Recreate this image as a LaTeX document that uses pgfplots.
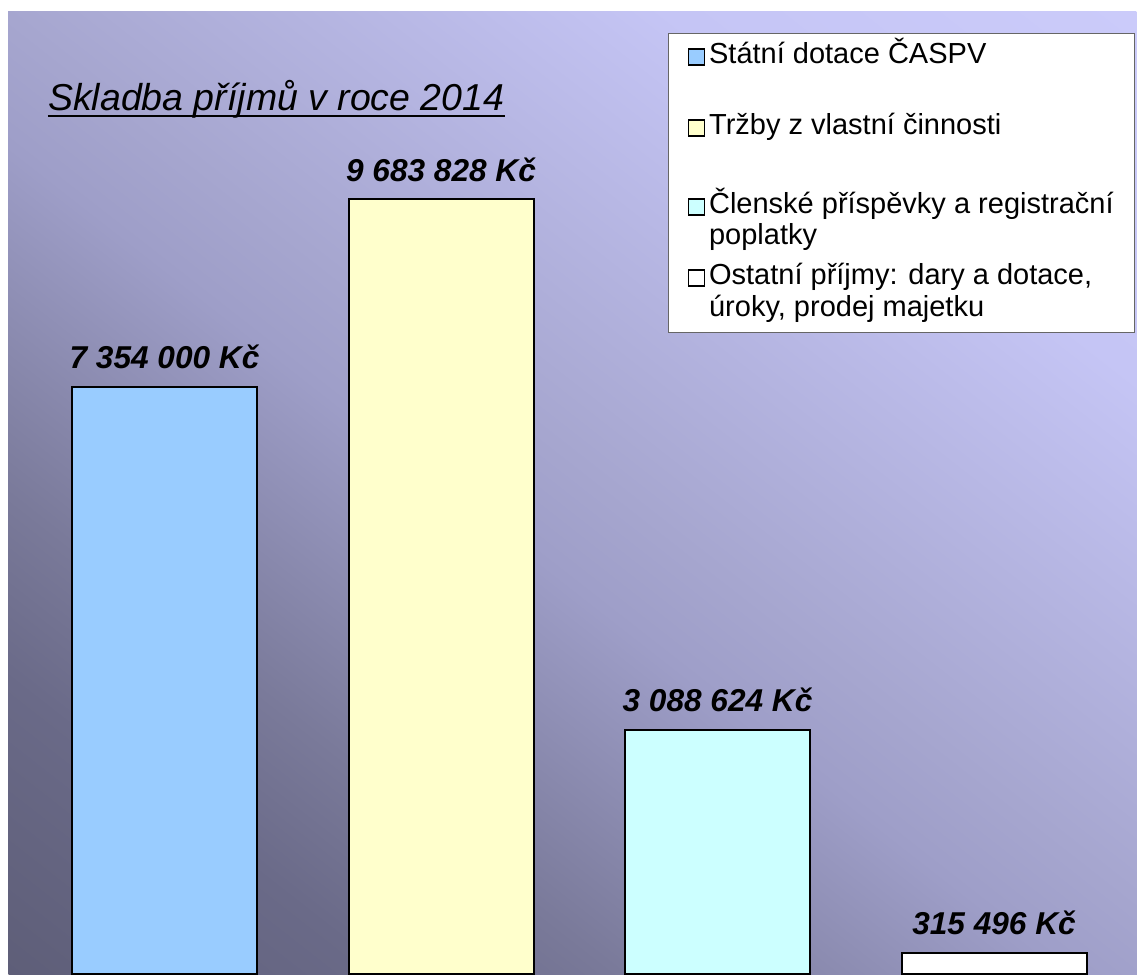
\documentclass[border=0pt]{standalone}
\usepackage{fontspec}
\setmainfont{Liberation Sans}
\usepackage{pgfplots}
\pgfplotsset{compat=1.18}
\newlength\px
\setlength\px{0.75pt}
\definecolor{cA}{HTML}{99CCFF}
\definecolor{cB}{HTML}{FFFFCC}
\definecolor{cC}{HTML}{CCFFFF}
\definecolor{g0}{HTML}{5E5E78}
\definecolor{g1}{HTML}{6A6A88}
\definecolor{g2}{HTML}{7A7A9A}
\definecolor{g3}{HTML}{9E9EC8}
\definecolor{g4}{HTML}{A6A6CF}
\definecolor{g5}{HTML}{C5C5F5}
\definecolor{g6}{HTML}{CBCBFA}
\pgfdeclareverticalshading{bgshade}{100bp}{color(0bp)=(g0); color(25bp)=(g0); color(33bp)=(g1); color(38bp)=(g2); color(47.5bp)=(g3); color(51bp)=(g4); color(65bp)=(g5); color(75bp)=(g6); color(100bp)=(g6)}
\newcommand\valfont{\fontsize{23.7}{28}\selectfont\bfseries\itshape}
\newcommand\legfont{\fontsize{21.75}{21.4}\selectfont}
\begin{document}
\begin{tikzpicture}
\useasboundingbox (0,0) rectangle (1137\px,974\px);
\begin{scope}
\clip (8\px,0) rectangle (1137\px,962\px);
\shade[shading=bgshade, transform canvas={rotate around={-38:(572.5\px,481\px)}}] (-327.5\px,-245.6\px) rectangle (1472.5\px,1207.6\px);
\end{scope}
\begin{axis}[
  at={(8\px,0)}, anchor=south west,
  scale only axis, width=1129\px, height=962\px,
  xmin=-0.566, xmax=3.517,
  ymin=50000, ymax=12013000,
  xtick=\empty, ytick=\empty,
  axis line style={draw=none},
  clip=true,
  legend style={at={(rel axis cs:0.5846,0.9782)}, anchor=north west, draw=black!60, line width=1\px, fill=white,
     inner xsep=19\px, inner ysep=5\px, cells={anchor=base west}, nodes={inner sep=0pt, text depth=},
     column sep=4\px, row sep=0pt, font=\legfont},
  mybar/.style={ybar, bar width=0.669, bar shift=0pt, draw=black, line width=2\px, fill=#1,
     legend image code/.code={\draw[fill=#1, draw=black, line width=1.6\px] (0,-1\px) rectangle (16\px,15\px);},
     every node near coord/.append style={anchor=base, yshift=18\px, font=\valfont, text=black}},
]
\addplot[mybar=cA, nodes near coords={7 354 000 Kč}] coordinates {(0,7354000)};
\addlegendentry{\parbox[t][75\px][t]{406\px}{\strut Státní dotace ČASPV}}
\addplot[mybar=cB, nodes near coords={9 683 828 Kč}] coordinates {(1,9683828)};
\addlegendentry{\parbox[t][75\px][t]{406\px}{\strut Tržby z vlastní činnosti}}
\addplot[mybar=cC, nodes near coords={3 088 624 Kč}] coordinates {(2,3088624)};
\addlegendentry{\parbox[t][75\px][t]{406\px}{\strut Členské příspěvky a registrační\\poplatky}}
\addplot[mybar=white, nodes near coords={315 496 Kč}] coordinates {(3,315496)};
\addlegendentry{\parbox[t]{406\px}{\strut Ostatní příjmy: dary a dotace,\\úroky, prodej majetku\strut\par\vspace{3\px}}}
\node[anchor=base west, inner sep=0pt, font=\fontsize{28.1}{30}\selectfont\itshape] (T) at (rel axis cs:0.0354,0.8981) {Skladba příjmů v roce 2014};
\draw[line width=2.8\px] ([yshift=-6\px]T.base west) -- ([yshift=-6\px]T.base east);
\end{axis}
\end{tikzpicture}
\end{document}
